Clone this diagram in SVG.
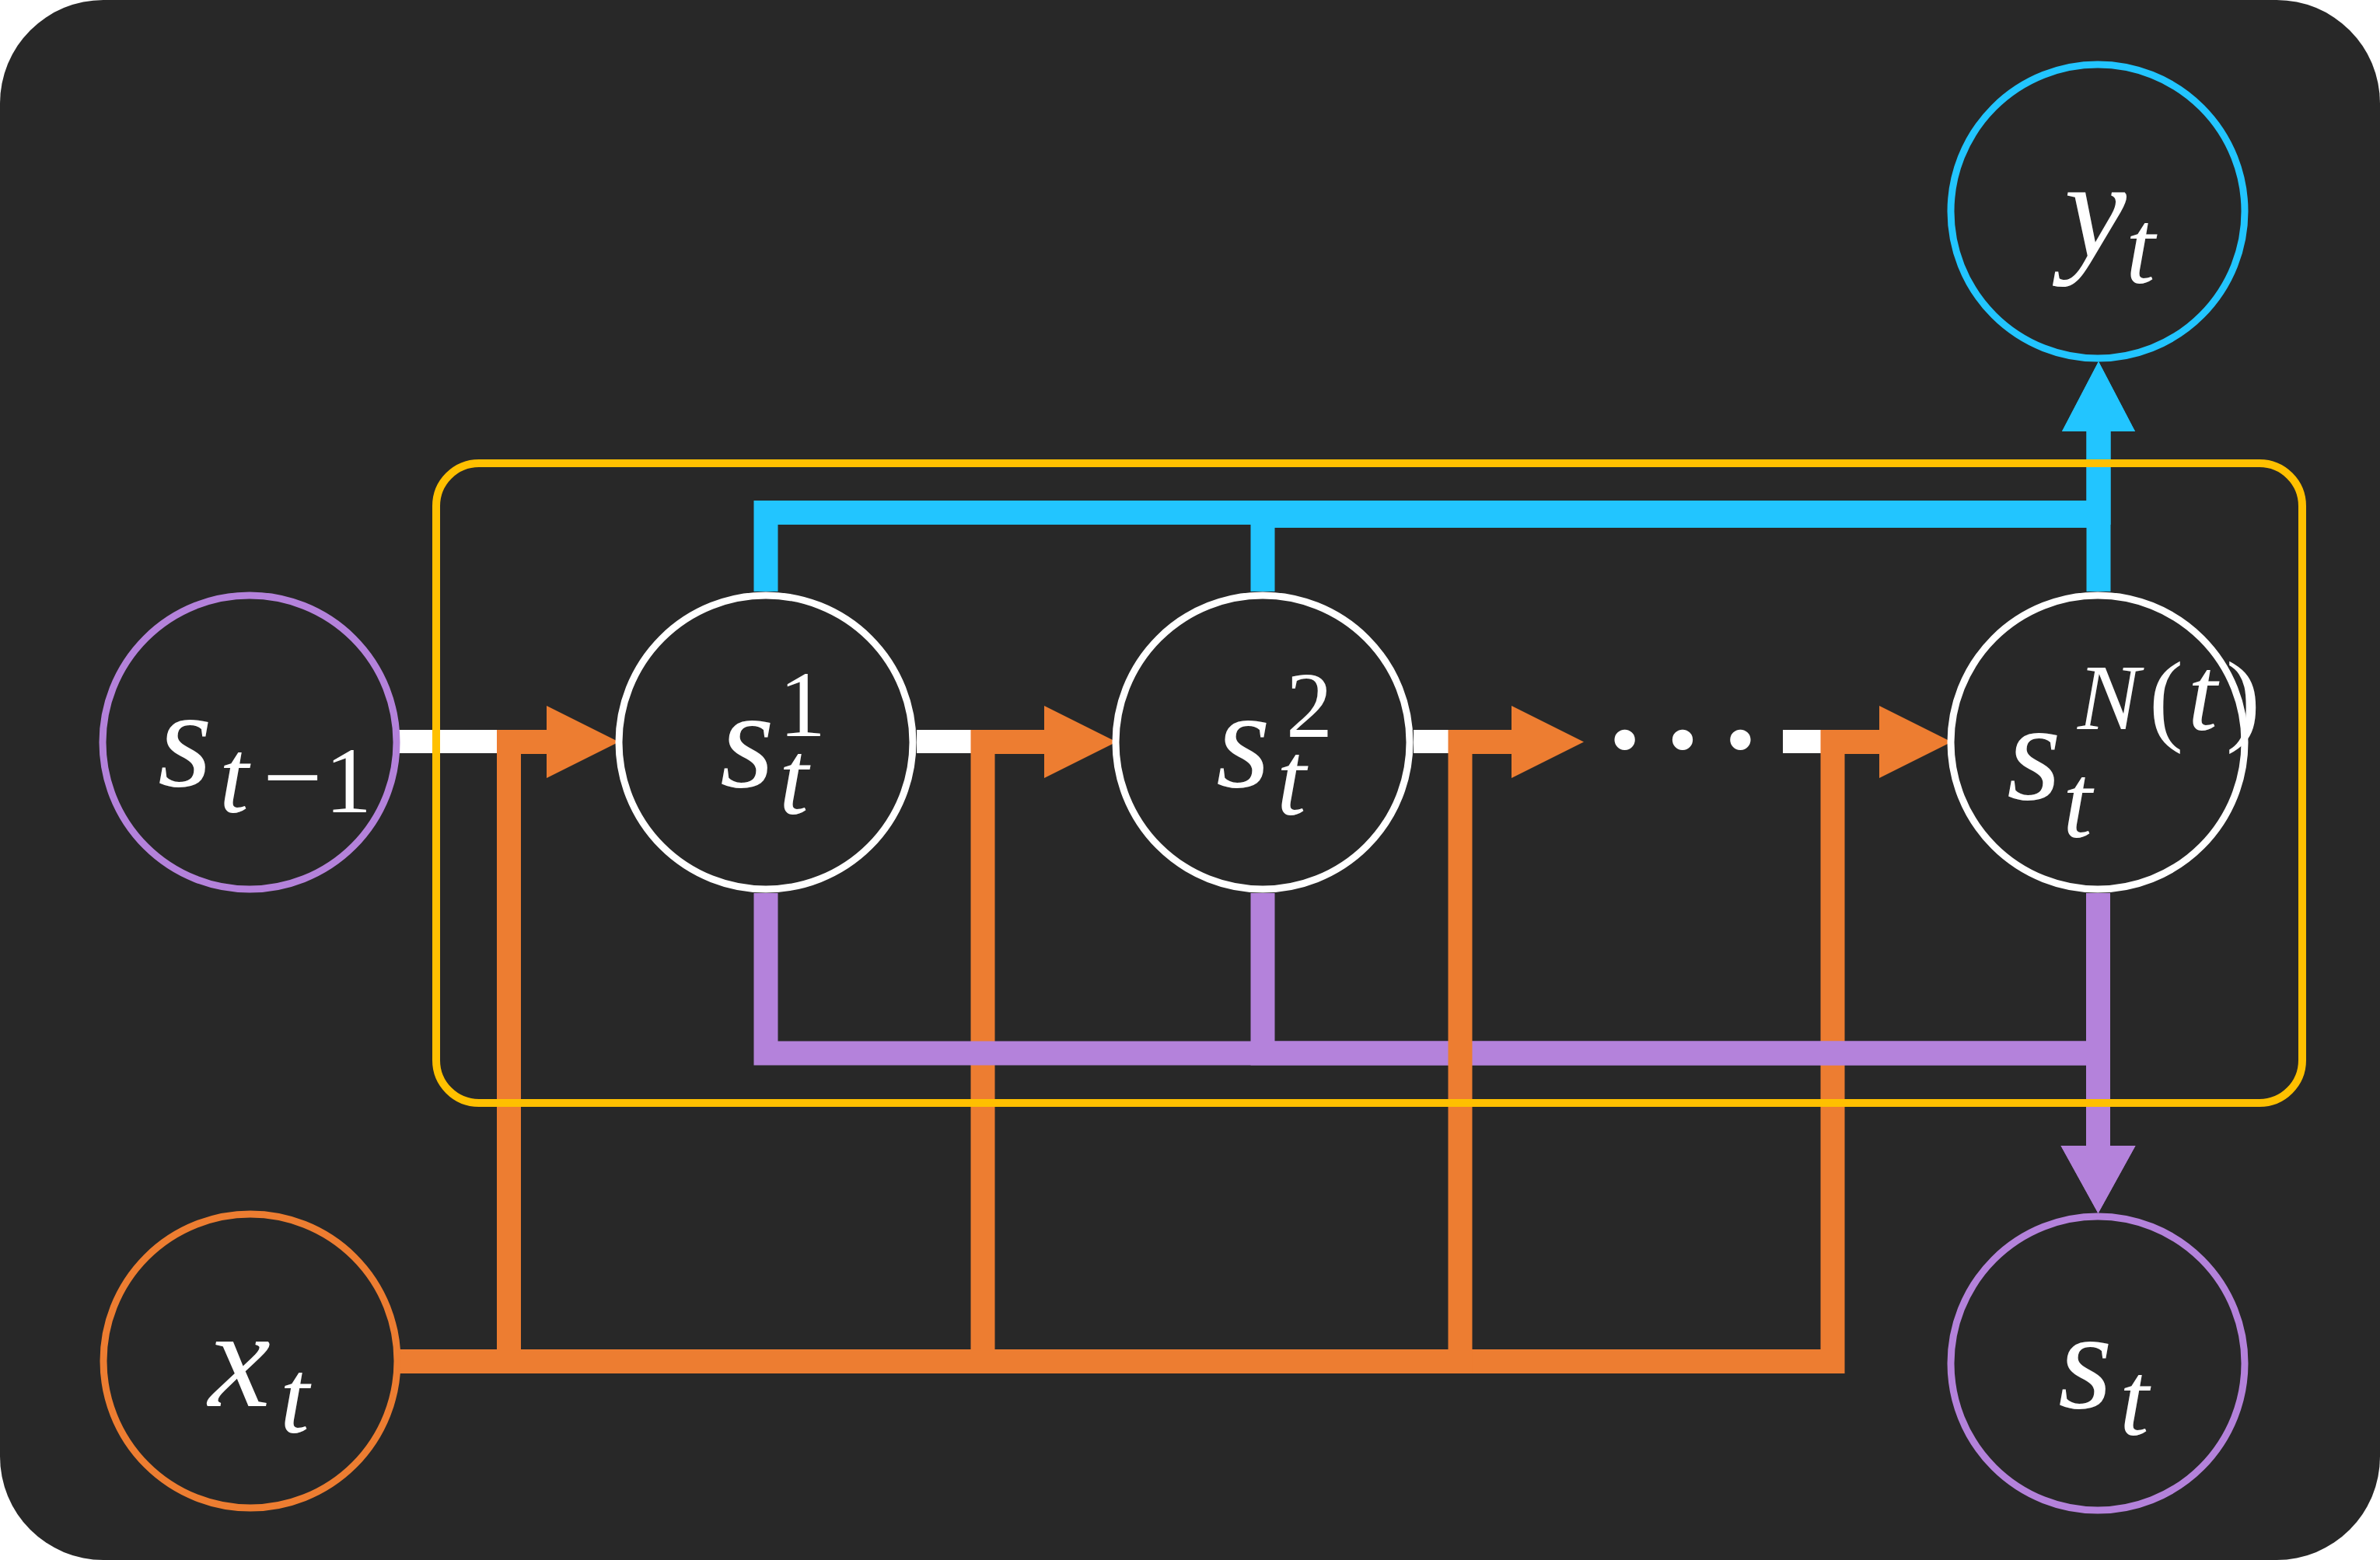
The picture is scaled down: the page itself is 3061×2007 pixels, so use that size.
<svg xmlns="http://www.w3.org/2000/svg" width="3061" height="2007" viewBox="0 0 3061 2007">
<style>
.bg{fill:#282828}
.ring{fill:none;stroke-width:9}
.w{stroke:#ffffff}
.pu{stroke:#B482DB}
.bl{stroke:#22C5FF}
.or{stroke:#ED7D31}
.ln{fill:none;stroke-width:31;stroke-linejoin:miter;stroke-linecap:butt}
.wl{fill:none;stroke:#ffffff;stroke-width:30}
.frame{fill:none;stroke:#FFC000;stroke-width:10}
text{fill:#ffffff;font-family:"Liberation Serif","Times New Roman",serif}
.m{font-size:180px;font-style:italic}
.si{font-size:136px;font-style:italic}
.su{font-size:120px;font-style:normal}
.mi{font-size:136px;font-style:normal}
.sn{font-size:120px;font-style:italic}
.pa{font-size:132px;font-style:normal}
.dots{font-size:222px}
</style>
<defs>
<marker id="aO" markerUnits="userSpaceOnUse" markerWidth="100" markerHeight="100" refX="0" refY="0" viewBox="0 -50 100 100" orient="auto" overflow="visible"><path d="M0,-46.5 L93,0 L0,46.5 Z" fill="#ED7D31"/></marker>
<marker id="aB" markerUnits="userSpaceOnUse" markerWidth="100" markerHeight="100" refX="0" refY="0" viewBox="0 -50 100 100" orient="auto" overflow="visible"><path d="M0,-47 L90,0 L0,47 Z" fill="#22C5FF"/></marker>
<marker id="aP" markerUnits="userSpaceOnUse" markerWidth="100" markerHeight="100" refX="0" refY="0" viewBox="0 -50 100 100" orient="auto" overflow="visible"><path d="M0,-48 L87,0 L0,48 Z" fill="#B482DB"/></marker>
</defs>
<rect class="bg" x="0" y="0" width="3061" height="2007" rx="133" ry="133"/>
<g id="connectors">
<path class="wl" d="M511 954 H703"/>
<path class="wl" d="M1179 954 H1343"/>
<path class="wl" d="M1818 954 H1944"/>
<path class="wl" d="M2293 954 H2417"/>
<path class="ln or" d="M513 1751.5 H654.5 V954.5 H703" marker-end="url(#aO)"/>
<path class="ln or" d="M513 1751.5 H1264 V954.5 H1343" marker-end="url(#aO)"/>
<path class="ln or" d="M513 1751.5 H2357 V954.5 H2417" marker-end="url(#aO)"/>
<path class="ln pu" d="M985 1149 V1355 H2698.5 V1474" marker-end="url(#aP)"/>
<path class="ln pu" d="M1624 1149 V1355 H2698.5"/>
<path class="ln pu" d="M2698.5 1149 V1474" marker-end="url(#aP)"/>
<path class="ln or" d="M513 1751.5 H1878 V954.5 H1944" marker-end="url(#aO)"/>
<path class="ln bl" d="M985 761 V659.5 H2699 V555" marker-end="url(#aB)"/>
<path class="ln bl" d="M1624 761 V663.5 H2699"/>
<path class="ln bl" d="M2699 761 V555" marker-end="url(#aB)"/>
<text class="dots" x="2164" y="962" text-anchor="middle">…</text>
</g>
<g id="node-s-prev">
<circle class="ring pu" cx="321" cy="955" r="189"/>
<text><tspan class="m" x="203" y="1011">s</tspan><tspan class="si" x="282" y="1045">t</tspan><tspan class="mi" x="338" y="1046">−</tspan><tspan class="su" x="418" y="1045">1</tspan></text>
</g>
<g id="node-s1">
<circle class="ring w" cx="985" cy="955" r="189"/>
<text><tspan class="m" x="926" y="1012">s</tspan><tspan class="si" x="1002" y="1047">t</tspan><tspan class="su" x="1002" y="947">1</tspan></text>
</g>
<g id="node-s2">
<circle class="ring w" cx="1624" cy="955" r="189"/>
<text><tspan class="m" x="1564" y="1012">s</tspan><tspan class="si" x="1642" y="1048">t</tspan><tspan class="su" x="1654" y="948">2</tspan></text>
</g>
<g id="node-sN">
<circle class="ring w" cx="2698" cy="955" r="189"/>
<text><tspan class="m" x="2581" y="1028">s</tspan><tspan class="si" x="2653" y="1077">t</tspan><tspan class="sn" x="2672" y="938">N</tspan><tspan class="pa" x="2764" y="942">(</tspan><tspan class="si" x="2814" y="939">t</tspan><tspan class="pa" x="2863" y="942">)</tspan></text>
</g>
<g id="node-y">
<circle class="ring bl" cx="2698" cy="272" r="189"/>
<text><tspan class="m" x="2655" y="330">y</tspan><tspan class="si" x="2734" y="364">t</tspan></text>
</g>
<g id="node-x">
<circle class="ring or" cx="322" cy="1751" r="189"/>
<text><tspan class="m" x="268" y="1809">x</tspan><tspan class="si" x="360" y="1843">t</tspan></text>
</g>
<g id="node-s">
<circle class="ring pu" cx="2698" cy="1754" r="189"/>
<text><tspan class="m" x="2647" y="1811">s</tspan><tspan class="si" x="2726" y="1846">t</tspan></text>
</g>
<g id="frame">
<rect class="frame" x="561" y="596" width="2400" height="823" rx="55" ry="55"/>
</g>
</svg>
